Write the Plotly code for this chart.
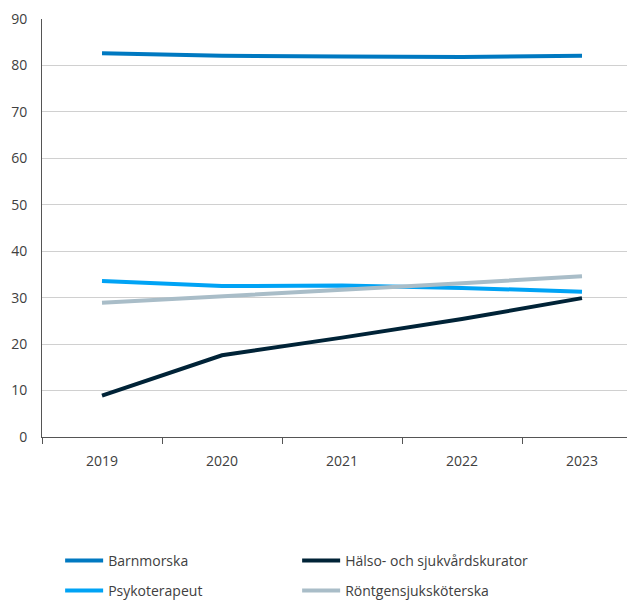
import plotly.graph_objects as go

years = ["2019", "2020", "2021", "2022", "2023"]
barnmorska = [82.6, 82.1, 81.9, 81.8, 82.1]
halso = [8.9, 17.6, 21.4, 25.4, 29.9]
psykoterapeut = [33.6, 32.5, 32.6, 32.1, 31.3]
rontgen = [28.9, 30.4, 31.7, 33.1, 34.6]

names = ["Barnmorska", "Hälso- och sjukvårdskurator", "Psykoterapeut", "Röntgensjuksköterska"]
colors = ["#0079c1", "#002337", "#00a3f5", "#a9bdc8"]
series = [barnmorska, halso, psykoterapeut, rontgen]
legends = ["legend", "legend", "legend2", "legend2"]

fig = go.Figure()
for n, c, s, lg in zip(names, colors, series, legends):
    fig.add_trace(go.Scatter(x=years, y=s, name=n, mode="lines",
                             line=dict(color=c, width=4), legend=lg))

font = dict(family="Open Sans", size=14, color="#404040")
leg = dict(orientation="h", x=0.031, xanchor="left", yanchor="middle",
           itemwidth=38, entrywidth=184, entrywidthmode="pixels", font=font,
           traceorder="normal")
fig.update_layout(
    width=619, height=592,
    margin=dict(l=34, r=0, t=11, b=163, autoexpand=False),
    plot_bgcolor="white", paper_bgcolor="white",
    font=font,
    showlegend=True,
    legend=dict(leg, y=-0.2967),
    legend2=dict(leg, y=-0.368),
)
fig.update_xaxes(type="category", range=[-0.5, 4.375], showgrid=False, automargin=False,
                 showline=True, linecolor="#555555", linewidth=1,
                 ticks="outside", tickson="boundaries", ticklen=6, tickcolor="#555555",
                 ticklabelstandoff=11, tickfont=font)
fig.update_yaxes(range=[0, 90], dtick=10, showgrid=True, gridcolor="#d0d0d0", gridwidth=1,
                 showline=True, linecolor="#555555", linewidth=1, zeroline=False, automargin=False,
                 ticks="", ticklabelstandoff=11, tickfont=font)

fig.write_html("out.html")
